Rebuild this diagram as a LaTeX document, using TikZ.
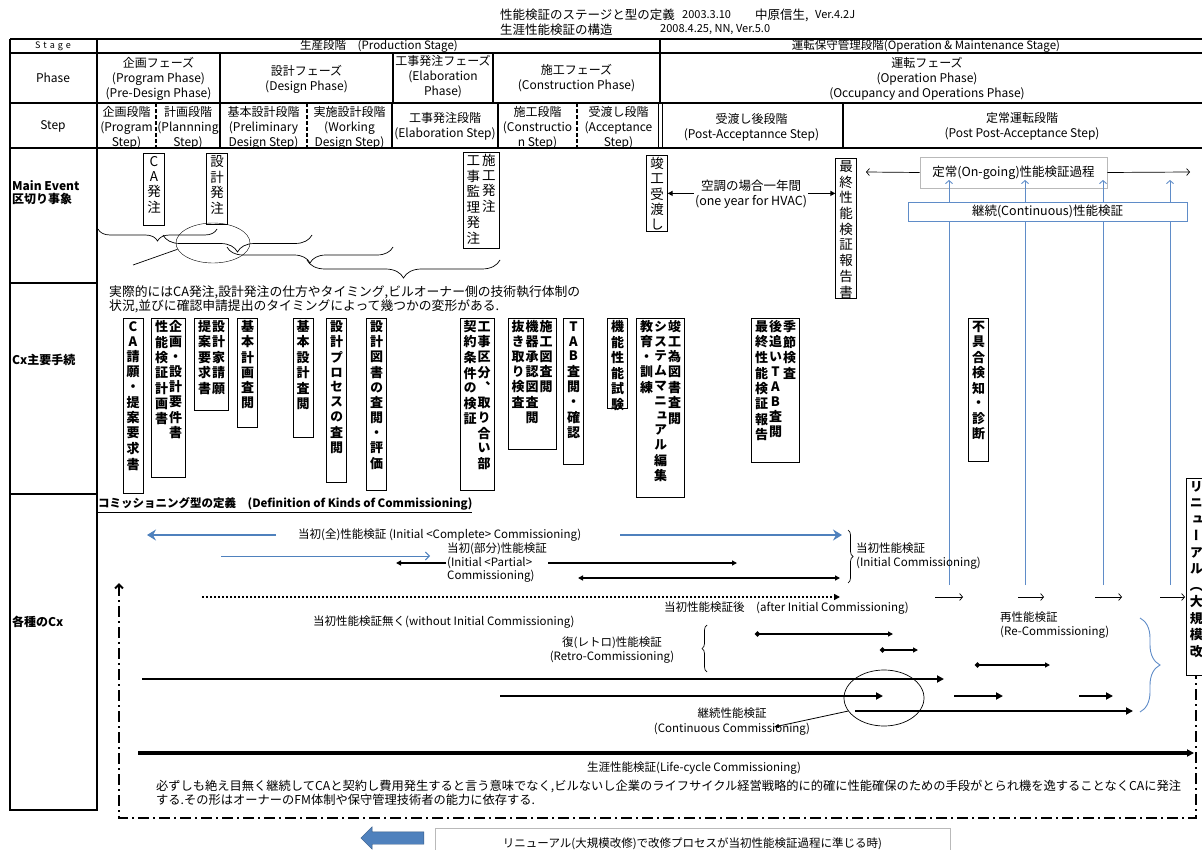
\documentclass[tikz,border=0pt]{standalone}
\usepackage{fontspec}
\setmainfont{Noto Sans CJK JP}
\newfontfamily\tatefont[RawFeature=+vert]{Noto Sans CJK JP}
\usetikzlibrary{arrows.meta,positioning,shapes.geometric,shapes.arrows,
                decorations.pathreplacing}
\definecolor{cxBlue}{RGB}{79,129,189}
\definecolor{cxLine}{RGB}{95,140,200}
\definecolor{cxGray}{RGB}{185,185,185}

% vertical (tategaki) column: one character per row
\ExplSyntaxOn
\tl_new:N \l_tate_body_tl
\NewDocumentCommand \tate { m }
  {
    \tl_clear:N \l_tate_body_tl
    \tl_map_inline:nn {#1}
      {
        \tl_if_empty:NF \l_tate_body_tl
          { \tl_put_right:Nn \l_tate_body_tl { \\ } }
        \tl_put_right:Nn \l_tate_body_tl {##1}
      }
    \begin{tabular}[t]{@{}c@{}} \l_tate_body_tl \end{tabular}
  }
\ExplSyntaxOff

\begin{document}
\begin{tikzpicture}[x=1pt,y=-1pt,font=\fontsize{12.5}{15}\selectfont,
  every node/.style={inner sep=1pt},
  tb/.style={line width=2.4pt},
  cell/.style={align=center,font=\fontsize{12}{15}\selectfont},
  vt/.style={draw,line width=0.8pt,anchor=north,inner xsep=3.5pt,inner ysep=2pt,
             text height=11pt,text depth=#1pt,font=\tatefont\fontsize{13.5}{14.8}\selectfont},
  cx/.style={vt=#1,font=\tatefont\bfseries\fontsize{13}{14.8}\selectfont},
  ar/.style={-{Triangle[length=5pt,width=5pt]},line width=1.5pt},
  ar2/.style={{Triangle[length=5pt,width=5pt]}-{Triangle[length=5pt,width=5pt]},line width=1.5pt},
  thk/.style={-{Triangle[length=7pt,width=7pt]},line width=2.8pt},
  ball/.style={{Circle[length=5pt]}-{Triangle[length=5pt,width=5pt]},line width=1.5pt},
  opn/.style={-{Straight Barb[length=3pt,width=7pt]},line width=0.7pt},
  bth/.style={-{Stealth[length=9pt,width=11pt,inset=3pt]},cxBlue,line width=2.6pt},
  bv/.style={-{Straight Barb[length=3pt,width=7pt]},cxLine,line width=0.9pt},
  brd/.style={decorate,decoration={brace,mirror,amplitude=#1pt},line width=0.7pt},
  bre/.style={decorate,decoration={brace,amplitude=#1pt},line width=0.7pt},
  dotl/.style={-{Triangle[length=6pt,width=6pt]},line width=2.2pt,dash pattern=on 2.2pt off 1.8pt},
  frm/.style={line width=2pt,dash pattern=on 11pt off 4pt on 2pt off 4pt}]

  \useasboundingbox (0,0) rectangle (1202,850);

  % title
  \node[anchor=west] (ttl1) at (499,15) {性能検証のステージと型の定義};
  \node[anchor=west,font=\fontsize{11}{12}\selectfont] (ttl1d) at (681,15) {2003.3.10};
  \node[anchor=west] (ttl1a) at (754,15) {中原信生,};
  \node[anchor=west,font=\fontsize{11}{12}\selectfont] (ttl1v) at (814,15) {Ver.4.2J};
  \node[anchor=west] (ttl2) at (499,30) {生涯性能検証の構造};
  \node[anchor=west,font=\fontsize{11}{12}\selectfont] (ttl2d) at (659,30) {2008.4.25, NN, Ver.5.0};

  % table grid
  \foreach \y in {39,53,103,148} \draw[tb] (10,\y) -- (1210,\y);
  \draw[tb] (10,39) -- (10,810) -- (97,810) -- (97,39);
  \draw[tb] (10,283) -- (97,283) (10,494) -- (97,494);
  \draw[tb] (660,39) -- (660,53);
  \foreach \x in {220,393,493,660} \draw[tb] (\x,53) -- (\x,103);
  \foreach \x in {220,392,498,843} \draw[tb] (\x,103) -- (\x,148);
  \foreach \x in {156,307,577} \draw[tb,dash pattern=on 4pt off 2pt] (\x,103) -- (\x,148);
  \draw[line width=1pt] (658,103) -- (658,148) (662,103) -- (662,148);

  % stage / phase / step
  \node (stg) at (53,46) {\fontsize{9}{10}\selectfont S\,\,t\,\,a\,\,g\,\,e};
  \node (prod) at (379,46) {\fontsize{11.5}{12}\selectfont 生産段階\quad(Production Stage)};
  \node (oper) at (926,46) {\fontsize{11.5}{12}\selectfont 運転保守管理段階(Operation \& Maintenance Stage)};
  \node[cell] (phs) at (53,78) {Phase};
  \node[cell] (ph1) at (158.5,79) {企画フェーズ\\(Program Phase)\\(Pre-Design Phase)};
  \node[cell] (ph2) at (306.5,79) {設計フェーズ\\(Design Phase)};
  \node[cell] (ph3) at (443,77) {工事発注フェーズ\\(Elaboration\\Phase)};
  \node[cell] (ph4) at (576.5,78) {施工フェーズ\\(Construction Phase)};
  \node[cell] (ph5) at (927,79) {運転フェーズ\\(Operation Phase)\\(Occupancy and Operations Phase)};
  \node[cell] (stp) at (53,126) {Step};
  \node[cell] (st1) at (126.5,128) {企画段階\\(Program\\Step)};
  \node[cell] (st2) at (188,128) {計画段階\\(Plannning\\Step)};
  \node[cell] (st3) at (263.5,128) {基本設計段階\\(Preliminary\\Design Step)};
  \node[cell] (st4) at (349.5,128) {実施設計段階\\(Working\\Design Step)};
  \node[cell] (st5) at (445,126) {工事発注段階\\(Elaboration Step)};
  \node[cell] (st6) at (537.5,128) {施工段階\\(Constructio\\n Step)};
  \node[cell] (st7) at (618.5,128) {受渡し段階\\(Acceptance\\Step)};
  \node[cell] (st8) at (751.5,127) {受渡し後段階\\(Post-Acceptannce Step)};
  \node[cell] (st9) at (1022,126) {定常運転段階\\(Post Post-Acceptance Step)};

  % row labels
  \node[anchor=west,align=left,font=\bfseries\fontsize{12}{13}\selectfont] (mev) at (11,193) {Main Event\\区切り事象};
  \node[anchor=west,font=\bfseries\fontsize{12}{13}\selectfont] (cxp) at (11,360) {Cx主要手続};
  \node[anchor=west,font=\bfseries\fontsize{12}{13}\selectfont] (kcx) at (11,622) {各種のCx};

  % main events
  \node[vt=57] (caord) at (154,153) {\tate{CA発注}};
  \node[vt=56] (sekord) at (217,153) {\tate{設計発注}};
  \node[vt=81] (kojord) at (481,152) {\tate{工事監理発注}\hspace{2pt}\tate{施工発注}};
  \node[vt=61] (shunko) at (657,155) {\tate{竣工受渡し}};
  \node[vt=125] (saishu) at (846,158) {\tate{最終性能検証報告書}};
  \draw[ar2] (shunko.east) -- (saishu.west |- shunko.east);
  \node[fill=white,align=center,font=\fontsize{12.5}{14.5}\selectfont] (hvac) at (751,194)
       {空調の場合一年間\\(one year for HVAC)};

  \node[draw=cxGray,line width=0.8pt,minimum width=187pt,minimum height=31pt] (ongo) at (1013.5,172.5)
       {定常(On-going)性能検証過程};
  \coordinate (ongl) at (866,172);
  \coordinate (ongr) at (1190,172);
  \draw[opn] (ongo.west) -- (ongl);
  \draw[opn] (ongo.east) -- (ongr);
  \foreach \x [count=\i] in {949,1025,1103,1170} {
    \coordinate (cvb\i) at (\x,585);
    \coordinate (cvt\i) at (\x,180);
    \draw[bv] (cvb\i) -- (cvt\i);
  }
  \node[draw=cxLine,fill=white,line width=0.9pt,minimum width=279pt,minimum height=19pt] (contb) at (1047.5,211.5)
       {継続(Continuous)性能検証};

  % braces over the early events
  \draw[brd=12] (98,229) -- (217,229);
  \draw[brd=17] (163,235) -- (312,235);
  \draw[brd=16] (227,247) -- (393,247);
  \draw[brd=18] (307,260) -- (500,260);
  \node[draw,ellipse,minimum width=74pt,minimum height=40pt,inner sep=0pt] (el1) at (213,243) {};
  \coordinate (el1p) at (133,265);
  \draw[line width=0.7pt] (el1.190) -- (el1p);
  \node[anchor=north west,align=left,font=\fontsize{12.8}{14}\selectfont] (note) at (108,284)
       {実際的にはCA発注,設計発注の仕方やタイミング,ビルオーナー側の技術執行体制の\\
        状況,並びに確認申請提出のタイミングによって幾つかの変形がある.};

  % Cx procedures
  \node[cx=160] (cxa) at (133,318) {\tate{CA請願・提案要求書}};
  \node[cx=144] (cxb) at (168.5,318) {\tate{性能検証計画書}\hspace{1pt}\tate{企画・設計要件書}};
  \node[cx=77] (cxc) at (211.5,318) {\tate{提案要求書}\hspace{1pt}\tate{設計家請願}};
  \node[cx=94] (cxd) at (247.5,318) {\tate{基本計画査閲}};
  \node[cx=104] (cxe) at (303,318) {\tate{基本設計査閲}};
  \node[cx=149] (cxf) at (336.5,318) {\tate{設計プロセスの査閲}};
  \node[cx=157] (cxg) at (376.5,318) {\tate{設計図書の査閲・評価}};
  \node[cx=157] (cxh) at (477,318) {\tate{契約条件の検証}\hspace{1pt}\tate{工事区分、取り合い部}};
  \node[cx=116] (cxi) at (532,318) {\tate{抜き取り検査}\hspace{1pt}\tate{機器承認図査閲}\hspace{1pt}\tate{施工図査閲}};
  \node[cx=131] (cxj) at (573.5,318) {\tate{TAB査閲・確認}};
  \node[cx=75] (cxk) at (617.5,318) {\tate{機能性能試験}};
  \node[cx=164] (cxl) at (660.5,318) {\tate{教育・訓練}\hspace{1pt}\tate{システムマニュアル編集}\hspace{1pt}\tate{竣工為図書査閲}};
  \node[cx=129] (cxm) at (775.5,318) {\tate{最終性能検証報告}\hspace{1pt}\tate{後追いTAB査閲}\hspace{1pt}\tate{季節検査}};
  \node[cx=128] (cxn) at (978.5,318) {\tate{不具合検知・診断}};
  \node[cx=182,anchor=north west,font=\tatefont\bfseries\fontsize{13}{16.5}\selectfont] (renew) at (1186,478)
       {\tate{リニューアル（大規模改}};

  % kinds of commissioning
  \node[anchor=west,font=\bfseries\fontsize{11.5}{13}\selectfont] (defn) at (97,505)
       {\underline{コミッショニング型の定義\quad(Definition of Kinds of Commissioning)}};
  \node[anchor=west,font=\fontsize{11.5}{13}\selectfont] (zen) at (297,535)
       {当初(全)性能検証 (Initial <Complete> Commissioning)};
  \coordinate (zl1) at (276,535); \coordinate (zl2) at (147,535);
  \coordinate (zr1) at (620,535); \coordinate (zr2) at (842,535);
  \draw[bth] (zl1) -- (zl2);
  \draw[bth] (zr1) -- (zr2);
  \node[anchor=west,align=left,font=\fontsize{11.5}{13.5}\selectfont] (part) at (446,563)
       {当初(部分)性能検証\\(Initial <Partial>\\Commissioning)};
  \coordinate (pb1) at (221,556); \coordinate (pb2) at (430,556);
  \draw[-{Straight Barb[length=4pt,width=8pt]},cxBlue,line width=0.9pt] (pb1) -- (pb2);
  \coordinate (pl) at (396,563); \coordinate (pr) at (737,563);
  \draw[ar] (part.west) -- (pl);
  \draw[ar] (part.east |- pl) -- (pr);
  \coordinate (pd1) at (578,578); \coordinate (pd2) at (840,578);
  \draw[ar2] (pd1) -- (pd2);
  \draw[bre=5] (848,530) -- (848,583);
  \node[anchor=west,align=left,font=\fontsize{11.5}{14.5}\selectfont] (init) at (855,556)
       {当初性能検証\\(Initial Commissioning)};

  \coordinate (dt1) at (202,597); \coordinate (dt2) at (840,597);
  \draw[dotl] (dt1) -- (dt2);
  \foreach \a/\b [count=\i] in {935/963,1018/1044,1095/1122,1160/1185} {
    \coordinate (ra\i) at (\a,597);
    \coordinate (rb\i) at (\b,597);
    \draw[opn] (ra\i) -- (rb\i);
  }
  \node[anchor=west,font=\fontsize{11.5}{13}\selectfont] (after) at (663,608)
       {当初性能検証後\quad(after Initial Commissioning)};
  \node[anchor=west,font=\fontsize{11.5}{13}\selectfont] (woi) at (312,622)
       {当初性能検証無く(without Initial Commissioning)};
  \node[align=center,font=\fontsize{11.5}{14.5}\selectfont] (retro) at (612,650)
       {復(レトロ)性能検証\\(Retro-Commissioning)};
  \draw[brd=5] (707,625) -- (707,672);
  \node[anchor=west,align=left,font=\fontsize{11.5}{14.5}\selectfont] (recx) at (999,625)
       {再性能検証\\(Re-Commissioning)};
  \draw[bre=20,cxLine,line width=0.9pt] (1140,618) -- (1140,712);

  % retro / continuous arrows
  \foreach \a/\b/\y [count=\i] in {755/893/634,880/918/650,975/1050/665} {
    \coordinate (ba\i) at (\a,\y);
    \coordinate (bb\i) at (\b,\y);
    \draw[ball] (ba\i) -- (bb\i);
  }
  \foreach \a/\b/\y [count=\i] in {142/944/679,500/883/696,954/1003/696,1079/1113/696,855/1133/711} {
    \coordinate (ta\i) at (\a,\y);
    \coordinate (tb\i) at (\b,\y);
    \draw[thk] (ta\i) -- (tb\i);
  }
  \node[draw,ellipse,minimum width=80pt,minimum height=56pt,inner sep=0pt,line width=0.7pt] (el2) at (884,698) {};
  \coordinate (el2p) at (774,727);
  \draw[-{Triangle[length=5pt,width=4pt]},line width=0.8pt] (el2.200) -- (el2p);
  \node[align=center,font=\fontsize{11.5}{15}\selectfont] (cont) at (732,722)
       {継続性能検証\\(Continuous Commissioning)};

  % life-cycle
  \coordinate (lc1) at (138,753); \coordinate (lc2) at (1194,753);
  \draw[thk,line width=3.2pt] (lc1) -- (lc2);
  \node[font=\fontsize{11.5}{13}\selectfont] (life) at (694,768) {生涯性能検証(Life-cycle Commissioning)};
  \node[anchor=north west,align=left,font=\fontsize{12.25}{14}\selectfont] (lnote) at (155,779)
       {必ずしも絶え目無く継続してCAと契約し費用発生すると言う意味でなく,ビルないし企業のライフサイクル経営戦略的に的確に性能確保のための手段がとられ機を逸することなくCAに発注\\
        する.その形はオーナーのFM体制や保守管理技術者の能力に依存する.};
  \coordinate (fr1) at (119,583); \coordinate (fr2) at (119,818);
  \coordinate (fr3) at (1196,818); \coordinate (fr4) at (1196,676);
  \draw[frm,{Straight Barb[length=4pt,width=8pt]}-] (fr1) -- (fr2) -- (fr3) -- (fr4);

  % renewal note
  \node[draw=cxGray,line width=0.8pt,minimum width=515pt,minimum height=30pt,anchor=north,
        font=\fontsize{11.5}{13}\selectfont] (rnote) at (692.5,828)
       {リニューアル(大規模改修)で改修プロセスが当初性能検証過程に準じる時)};
  \node[single arrow,shape border rotate=180,fill=cxBlue,draw=cxBlue!70!black,
        minimum height=63pt,minimum width=22pt,inner sep=0pt,text height=0pt,text depth=0pt,
        inner ysep=6pt,single arrow head extend=5pt] (rarr) at (395.5,838) {};
\end{tikzpicture}
\end{document}
